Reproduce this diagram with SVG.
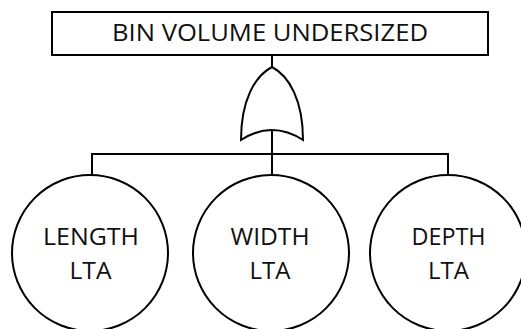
<svg xmlns="http://www.w3.org/2000/svg" width="521" height="329" viewBox="0 0 521 329">
<style>
.s{fill:#fff;stroke:#000;stroke-width:2}
.l{fill:none;stroke:#000;stroke-width:2}
text{font-family:"Open Sans","Noto Sans",sans-serif;font-size:24px;fill:#111;text-anchor:middle}
</style>
<rect width="521" height="329" fill="#fff"/>
<g id="connectors">
<path class="l" d="M272,55V68M272,131V154M92,154H448M92,153V175M272,154V175M448,153V175"/>
</g>
<g id="top">
<rect class="s" x="52" y="12" width="436" height="43"/>
<text x="270" y="41" textLength="316" lengthAdjust="spacingAndGlyphs">BIN VOLUME UNDERSIZED</text>
</g>
<g id="or-gate">
<path class="s" d="M241,140C241,100 255,76 272,67C289,76 303,100 303,140Q272,120 241,140Z"/>
</g>
<g id="length">
<circle class="s" cx="90" cy="253" r="78"/>
<text x="91" y="245" textLength="96" lengthAdjust="spacingAndGlyphs">LENGTH</text>
<text x="90.5" y="279" textLength="42" lengthAdjust="spacingAndGlyphs">LTA</text>
</g>
<g id="width">
<circle class="s" cx="271" cy="253" r="78"/>
<text x="270" y="245" textLength="79" lengthAdjust="spacingAndGlyphs">WIDTH</text>
<text x="270" y="279" textLength="41" lengthAdjust="spacingAndGlyphs">LTA</text>
</g>
<g id="depth">
<circle class="s" cx="448" cy="253" r="78"/>
<text x="448.5" y="245" textLength="74" lengthAdjust="spacingAndGlyphs">DEPTH</text>
<text x="448.5" y="279" textLength="41" lengthAdjust="spacingAndGlyphs">LTA</text>
</g>
</svg>
